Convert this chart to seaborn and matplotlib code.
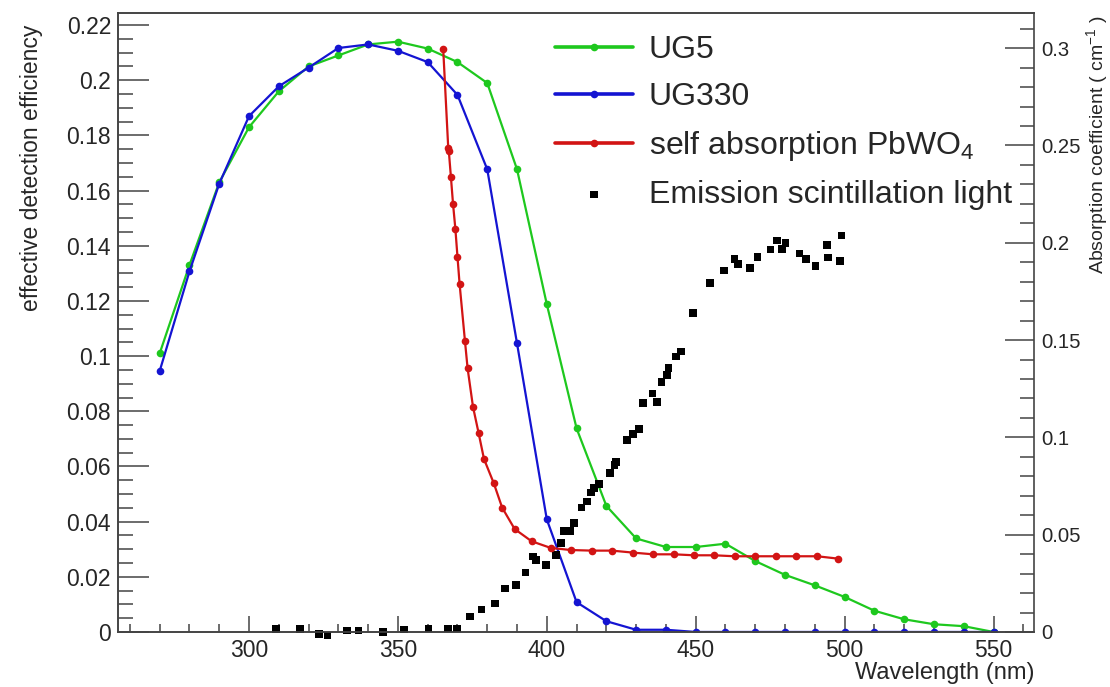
import numpy as np
import pandas as pd
import matplotlib
matplotlib.use('Agg')
import matplotlib.pyplot as plt
import seaborn as sns
from matplotlib.ticker import MultipleLocator, FuncFormatter, FixedLocator

# ---------------- data ----------------
filter_wl = [270, 280, 290, 300, 310, 320, 330, 340, 350, 360, 370, 380, 390, 400,
             410, 420, 430, 440, 450, 460, 470, 480, 490, 500, 510, 520, 530, 540, 550]
ug5 = [0.101, 0.133, 0.163, 0.183, 0.196, 0.205, 0.209, 0.213, 0.214, 0.2115, 0.2066,
       0.199, 0.1677, 0.1188, 0.0738, 0.0457, 0.0339, 0.0308, 0.0308, 0.0320, 0.0257,
       0.0207, 0.0169, 0.0127, 0.0077, 0.0046, 0.0028, 0.0021, 0.0]
ug330 = [0.0946, 0.1307, 0.1625, 0.187, 0.1978, 0.2046, 0.2117, 0.2130, 0.2107, 0.2066,
         0.1947, 0.1677, 0.1046, 0.0408, 0.0108, 0.0039, 0.0008, 0.0008, 0.0, 0.0, 0.0,
         0.0, 0.0, 0.0, 0.0, 0.0, 0.0, 0.0, 0.0]

abs_wl = [365.2, 366.9, 367.1, 367.8, 368.5, 369.3, 370.0, 370.7, 372.5, 373.4, 375.2,
          377.1, 378.9, 382.2, 385.0, 389.2, 394.9, 401.3, 408.1, 415.2, 421.9, 428.8,
          435.7, 442.7, 449.4, 456.2, 463.1, 469.8, 477.0, 483.8, 490.8, 497.7]
abs_coef = [0.2998, 0.2486, 0.2470, 0.2337, 0.2201, 0.2070, 0.1928, 0.1790, 0.1497,
            0.1355, 0.1158, 0.1022, 0.0889, 0.0764, 0.0639, 0.0529, 0.0466, 0.0432,
            0.0421, 0.0418, 0.0418, 0.0408, 0.0399, 0.0399, 0.0394, 0.0394, 0.0389,
            0.0389, 0.0389, 0.0389, 0.0389, 0.0377]

em_wl = [309.0, 317.1, 323.5, 326.4, 332.8, 336.7, 344.9, 352.0, 360.3, 366.8, 369.9,
         374.2, 378.1, 382.5, 386.0, 389.7, 392.8, 395.4, 396.4, 399.7, 403.1, 404.7,
         405.7, 408.0, 409.1, 411.7, 413.5, 414.8, 415.8, 417.5, 421.3, 422.7, 423.3,
         426.9, 429.0, 430.9, 432.4, 435.5, 437.0, 438.5, 440.3, 440.9, 443.4, 445.0,
         449.1, 454.8, 459.5, 463.0, 464.1, 468.3, 470.7, 475.1, 477.3, 479.0, 480.2,
         484.8, 487.0, 490.2, 494.1, 494.4, 498.5, 498.9]
em_val = [0.0015, 0.0014, -0.0009, -0.0019, 0.0007, 0.0007, 0.0000, 0.0012, 0.0017,
          0.0017, 0.0017, 0.0079, 0.0115, 0.0147, 0.0224, 0.0240, 0.0305, 0.0387,
          0.0370, 0.0343, 0.0397, 0.0457, 0.0519, 0.0519, 0.0559, 0.0639, 0.0670,
          0.0716, 0.0740, 0.0761, 0.0816, 0.0858, 0.0872, 0.0985, 0.1018, 0.1043,
          0.1175, 0.1225, 0.1181, 0.1283, 0.1321, 0.1357, 0.1415, 0.1441, 0.1638,
          0.1792, 0.1857, 0.1916, 0.1890, 0.1869, 0.1928, 0.1965, 0.2011, 0.1967,
          0.1998, 0.1944, 0.1917, 0.1880, 0.1989, 0.1924, 0.1905, 0.2037]

x_ticks = [300, 350, 400, 450, 500, 550]

# ---------------- style ----------------
sns.set_theme(style='ticks')
plt.rcParams['font.family'] = ['Liberation Sans', 'DejaVu Sans']
plt.rcParams['mathtext.fontset'] = 'custom'
plt.rcParams['mathtext.rm'] = 'Liberation Sans'
plt.rcParams['mathtext.it'] = 'Liberation Sans:italic'
plt.rcParams['mathtext.bf'] = 'Liberation Sans:bold'

GREEN = '#1ec81e'
BLUE = '#1414d2'
RED = '#d21414'
FRAME = '#444444'

fig = plt.figure(figsize=(11.1, 6.87), dpi=100)
ax = fig.add_axes([0.1063, 0.0801, 0.8255, 0.9014])
ax2 = ax.twinx()

df_f = pd.DataFrame({'wl': filter_wl, 'UG5': ug5, 'UG330': ug330})
df_a = pd.DataFrame({'wl': abs_wl, 'coef': abs_coef})
df_e = pd.DataFrame({'wl': em_wl, 'val': em_val})

line_kw = dict(marker='o', markersize=5.5, markeredgewidth=0, linewidth=1.6,
               estimator=None, sort=False)
sns.lineplot(data=df_f, x='wl', y='UG5', ax=ax, color=GREEN, label='UG5', **line_kw)
sns.lineplot(data=df_f, x='wl', y='UG330', ax=ax, color=BLUE, label='UG330', **line_kw)
sns.lineplot(data=df_a, x='wl', y='coef', ax=ax2, color=RED,
             label='self absorption PbWO$_4$', **line_kw)
sns.scatterplot(data=df_e, x='wl', y='val', ax=ax2, marker='s', s=30, color='black',
                edgecolor='none', linewidth=0, label='Emission scintillation light',
                clip_on=False)

# ---------------- axes ----------------
ax.set_xlim(256, 563.7)
ax.set_ylim(0, 0.2245)
ax2.set_ylim(0, 0.3182)

fmt = FuncFormatter(lambda v, p: '%g' % round(v, 4))
ax.xaxis.set_major_locator(FixedLocator(x_ticks))
ax.xaxis.set_minor_locator(MultipleLocator(10))
ax.yaxis.set_major_locator(MultipleLocator(0.02))
ax.yaxis.set_minor_locator(MultipleLocator(0.005))
ax.yaxis.set_major_formatter(fmt)
ax2.yaxis.set_major_locator(MultipleLocator(0.05))
ax2.yaxis.set_minor_locator(MultipleLocator(0.01))
ax2.yaxis.set_major_formatter(fmt)

ax.tick_params(axis='x', which='major', direction='in', length=11.5, width=1.1,
               color=FRAME, labelsize=16.5, pad=5, top=False)
ax.tick_params(axis='x', which='minor', direction='in', length=5.8, width=1.1,
               color=FRAME, top=False)
ax.tick_params(axis='y', which='major', direction='in', length=22, width=1.1,
               color=FRAME, labelsize=16.5, pad=5, right=False)
ax.tick_params(axis='y', which='minor', direction='in', length=11, width=1.1,
               color=FRAME, right=False)
ax2.tick_params(axis='y', which='major', direction='in', length=21, width=1.1,
                color=FRAME, labelsize=14.6, pad=5)
ax2.tick_params(axis='y', which='minor', direction='in', length=10, width=1.1,
                color=FRAME)

for a in (ax, ax2):
    for s in a.spines.values():
        s.set_color(FRAME)
        s.set_linewidth(1.2)
ax.spines['right'].set_visible(False)

ax.set_xlabel('Wavelength (nm)', fontsize=17, loc='right')
ax.xaxis.set_label_coords(1.0, -0.048)
ax.set_ylabel('effective detection efficiency', fontsize=16.5, loc='top')
ax.yaxis.set_label_coords(-0.082, 0.98)
ax2.set_ylabel('Absorption coefficient ( cm$^{-1}$ )', fontsize=14, loc='top')
ax2.yaxis.set_label_coords(1.0545, 0.996)

# ---------------- legend ----------------
h1, l1 = ax.get_legend_handles_labels()
h2, l2 = ax2.get_legend_handles_labels()
if ax.get_legend() is not None:
    ax.get_legend().remove()
if ax2.get_legend() is not None:
    ax2.get_legend().remove()
leg = ax2.legend(h1 + h2, l1 + l2, loc='upper left',
                 bbox_to_anchor=(555 / 1110, 1 - 35 / 687), bbox_transform=fig.transFigure,
                 frameon=False, fontsize=23, borderpad=0, borderaxespad=0,
                 handlelength=2.44, handletextpad=0.5, labelspacing=0.53,
                 scatterpoints=1, numpoints=1)
for ln in leg.get_lines():
    ln.set_linewidth(2.6)

fig.savefig('out.png', dpi=100)
